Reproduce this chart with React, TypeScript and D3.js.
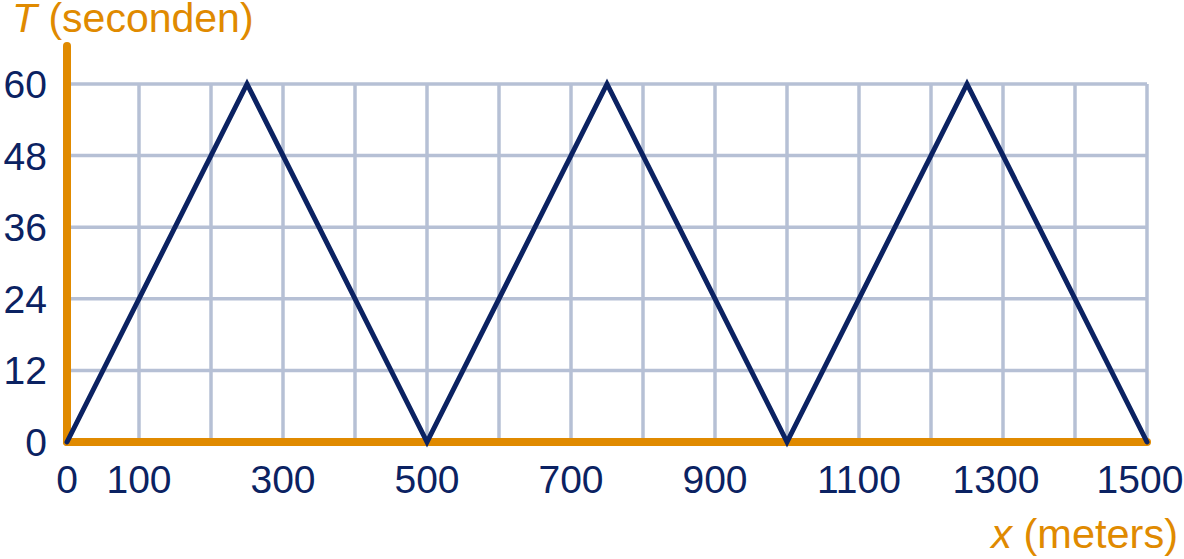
import React from "react";
import * as d3 from "d3";

const xData = [0, 250, 500, 750, 1000, 1250, 1500];
const tData = [0, 60, 0, 60, 0, 60, 0];
const xGrid = [0, 100, 200, 300, 400, 500, 600, 700, 800, 900, 1000, 1100, 1200, 1300, 1400, 1500];
const xTickLabels = [0, 100, 300, 500, 700, 900, 1100, 1300, 1500];
const yTicks = [0, 12, 24, 36, 48, 60];

const W = 1184;
const H = 559;
const ORANGE = "#e08a00";
const NAVY = "#0b2262";
const GRID = "#b6c0d5";
const FONT = "'Liberation Sans', Arial, sans-serif";

export default function App() {
  const x = d3.scaleLinear().domain([0, 1500]).range([67, 1147]);
  const y = d3.scaleLinear().domain([0, 60]).range([442, 84]);
  const line = d3
    .line<number>()
    .x((_, i) => x(xData[i]))
    .y((d) => y(d));
  return (
    <svg
      width={W}
      height={H}
      style={{ position: "absolute", left: 0, top: 0, background: "#fff" }}
      fontFamily={FONT}
    >
      {xGrid.map((v) => (
        <line key={"gx" + v} x1={x(v)} x2={x(v)} y1={y(0)} y2={y(60)} stroke={GRID} strokeWidth={3.5} />
      ))}
      {yTicks.map((v) => (
        <line key={"gy" + v} x1={x(0)} x2={x(1500)} y1={y(v)} y2={y(v)} stroke={GRID} strokeWidth={3.5} />
      ))}
      <line x1={x(0)} x2={x(0)} y1={y(0)} y2={46} stroke={ORANGE} strokeWidth={8} strokeLinecap="round" />
      <line x1={x(0)} x2={x(1500)} y1={y(0)} y2={y(0)} stroke={ORANGE} strokeWidth={8} strokeLinecap="round" />
      <path
        d={line(tData) || ""}
        fill="none"
        stroke={NAVY}
        strokeWidth={5}
        strokeLinejoin="miter"
        strokeLinecap="round"
      />
      {yTicks.map((v) => (
        <text key={"ty" + v} x={47} y={y(v) + 14} textAnchor="end" fontSize={39} fill={NAVY}>
          {v}
        </text>
      ))}
      {xTickLabels.map((v) => (
        <text
          key={"tx" + v}
          x={x(v) + (v >= 1300 ? -7 : 0)}
          y={493}
          textAnchor="middle"
          fontSize={39}
          fill={NAVY}
        >
          {v}
        </text>
      ))}
      <text x={12} y={32} fontSize={41} fill={ORANGE}>
        <tspan fontStyle="italic">T</tspan> (seconden)
      </text>
      <text x={1178} y={548} textAnchor="end" fontSize={41.5} fill={ORANGE}>
        <tspan fontStyle="italic">x</tspan> (meters)
      </text>
    </svg>
  );
}
